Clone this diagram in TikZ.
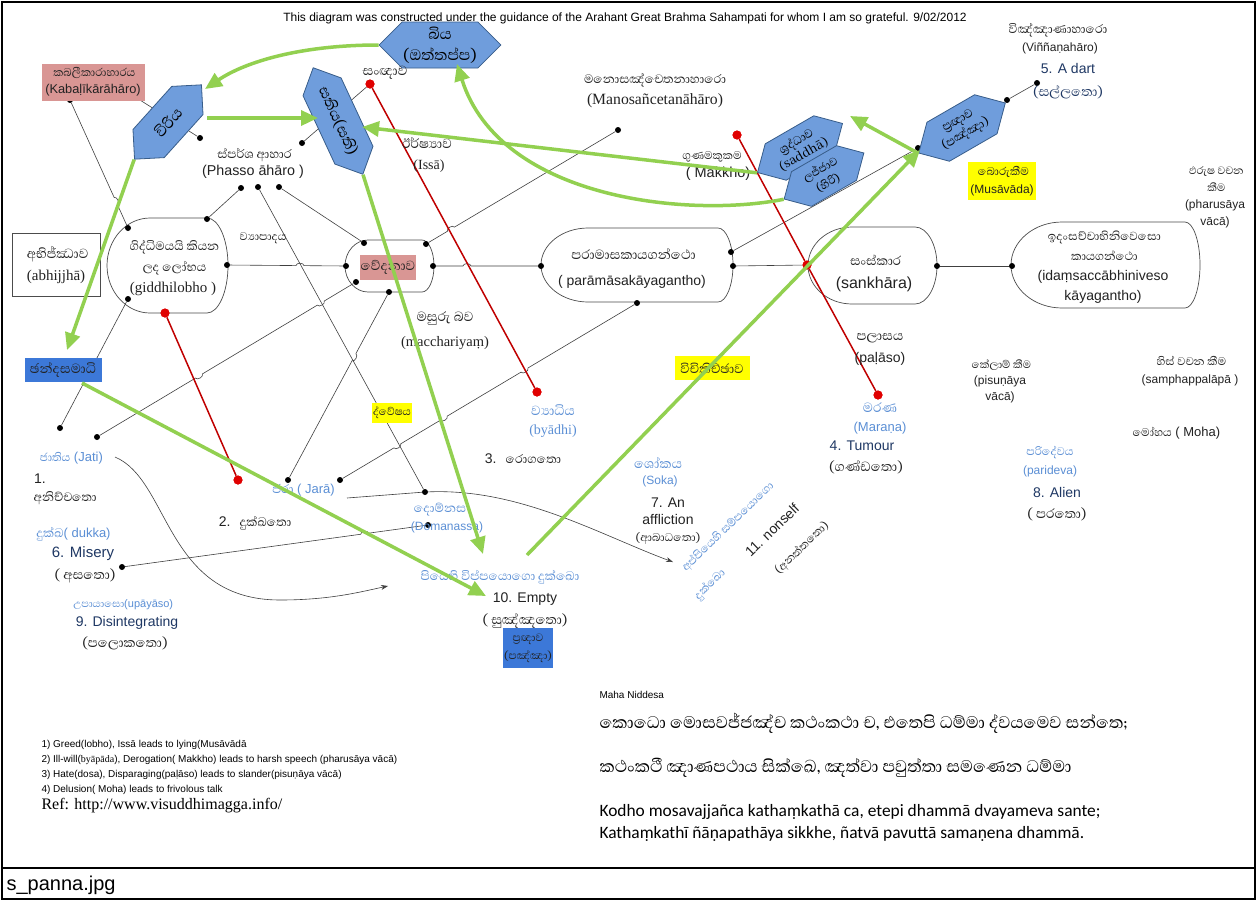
\documentclass[tikz,border=0pt]{standalone}
\usepackage{fontspec}
\setmainfont{Liberation Sans}
\newfontfamily\sinhala[Script=Sinhala, Scale=1.3]{Abhaya Libre}
\newfontfamily\serf{Liberation Serif}
\newfontfamily\calib{Carlito}
\usetikzlibrary{shapes.symbols,arrows.meta,calc}

\definecolor{hexfill}{HTML}{6F9DDC}
\definecolor{hexline}{HTML}{385D8A}
\definecolor{pinkbox}{HTML}{D99694}
\definecolor{bluebox}{HTML}{3C78D8}
\definecolor{hilite}{HTML}{FFFF00}
\definecolor{lgreen}{HTML}{92D050}
\definecolor{darkred}{HTML}{C00000}
\definecolor{reddot}{HTML}{E00000}
\definecolor{lblue}{HTML}{5B8FD5}
\definecolor{navy}{HTML}{1F3864}
\definecolor{ink}{HTML}{222222}

\newcommand\fsz[2]{\fontsize{#1}{#2}\selectfont}

\tikzset{
  hexa/.style={signal, signal to=east and west, draw=hexline, fill=hexfill,
    line width=0.8pt, inner sep=1pt, align=center, font=\sinhala\fsz{11.5}{15}},
  dot/.style={circle, fill=black, inner sep=0pt, minimum size=6pt},
  rdot/.style={circle, fill=reddot, inner sep=0pt, minimum size=9pt},
  link/.style={draw=black!75, line width=0.6pt},
  hop/.style={bend left=90},
  redline/.style={draw=darkred, line width=1.5pt},
  garrow/.style={draw=lgreen, line width=3.5pt, -{Triangle[length=17pt,width=15pt]}},
  lbl/.style={align=center, inner sep=1pt, font=\fsz{13}{16}, text=ink},
  sil/.style={lbl, font=\sinhala\fsz{13}{16}},
  srf/.style={lbl, font=\serf\fsz{14}{16}},
  blu/.style={text=lblue},
  capsule/.style={draw=black!70, line width=0.7pt},
  boxed/.style={inner sep=1pt, align=center, text=ink},
}

% rounded "display" outline: #1 left, #2 flat start, #3 flat end, #4 right, #5 top, #6 bottom
\newcommand\capsule[6]{%
  \pgfmathsetmacro\capM{(#5+#6)/2}%
  \pgfmathsetmacro\capA{\capM-0.55*(#6-#5)/2}%
  \pgfmathsetmacro\capB{\capM+0.55*(#6-#5)/2}%
  \pgfmathsetmacro\capR{#3+0.55*(#4-#3)}%
  \pgfmathsetmacro\capL{#2-0.55*(#2-#1)}%
  \draw[capsule] (#2,#5) -- (#3,#5) .. controls (\capR,#5) and (#4,\capA) .. (#4,\capM)
    .. controls (#4,\capB) and (\capR,#6) .. (#3,#6) -- (#2,#6)
    .. controls (\capL,#6) and (#1,\capB) .. (#1,\capM)
    .. controls (#1,\capA) and (\capL,#5) .. (#2,#5) -- cycle;}

\begin{document}
\begin{tikzpicture}[x=1pt,y=-1pt]
\useasboundingbox (0,0) rectangle (1257,900);
\fill[white] (0,0) rectangle (1257,900);
\draw[line width=2pt] (2,2) rectangle (1255,899);
\draw[line width=1.5pt] (2,868) -- (1255,868);

% title
\node[font=\fsz{12}{14}] (title) at (625,18) {This diagram was constructed under the guidance of the Arahant Great Brahma Sahampati for whom I am so grateful. 9/02/2012};

% outlines of the grouped states
\capsule{107}{150}{207}{228}{218}{313}
\capsule{345}{368}{422}{434}{240}{292}
\capsule{541}{588}{718}{733}{228}{302}
\capsule{808}{852}{915}{937}{227}{304}
\capsule{1011}{1062}{1185}{1200}{222}{308}

% junction dots
\node[dot] (k1) at (70,100) {};
\node[dot] (k2) at (132,95) {};
\node[dot] (v2) at (200,138) {};
\node[dot] (s1) at (302,143) {};
\node[dot] (p1) at (241,188) {};
\node[dot] (p2) at (258,187) {};
\node[dot] (p3) at (279,187) {};
\node[dot] (g1) at (128,228) {};
\node[dot] (g2) at (207,219) {};
\node[dot] (g3) at (227,265) {};
\node[dot] (g4) at (128,299) {};
\node[dot] (e1) at (364,243) {};
\node[dot] (e2) at (426,244) {};
\node[dot] (e3) at (346,266) {};
\node[dot] (e4) at (433,266) {};
\node[dot] (e5) at (356,282) {};
\node[dot] (e6) at (389,292) {};
\node[dot] (m1) at (618,130) {};
\node[dot] (pa1) at (541,266) {};
\node[dot] (pa2) at (731,252) {};
\node[dot] (pa3) at (733,266) {};
\node[dot] (pa4) at (637,303) {};
\node[dot] (sk1) at (937,266) {};
\node[dot] (id1) at (1012,266) {};
\node[dot] (pr1) at (918,148) {};
\node[dot] (pr2) at (1007,100) {};
\node[dot] (vi1) at (1037,83) {};
\node[dot] (j1) at (60,428) {};
\node[dot] (j2) at (97,437) {};
\node[dot] (ja1) at (288,480) {};
\node[dot] (ja2) at (340,480) {};
\node[dot] (dm1) at (425,492) {};
\node[dot] (dm2) at (428,525) {};
\node[dot] (ms1) at (122,567) {};

% red end points
\node[rdot] (r1) at (370,84) {};
\node[rdot] (r2) at (537,392) {};
\node[rdot] (r3) at (165,313) {};
\node[rdot] (r4) at (238,480) {};
\node[rdot] (r5) at (737,135) {};
\node[rdot] (r6) at (807,265) {};
\node[rdot] (r7) at (878,395) {};

% thin links, with small hops where they jump over other lines
\draw[link] (k1) -- ($(k1)!107pt!(g1)$) to[hop] ($(k1)!115pt!(g1)$) -- (g1);
\draw[link] (k2) -- (v2);
\draw[link] (s1) -- (r1);
\draw[link] (p1) -- (g2);
\draw[link] (p2) -- (dm1);
\draw[link] (p3) -- (e1);
\draw[link] (e2) -- ($(e2)!25pt!(m1)$) to[hop] ($(e2)!33pt!(m1)$) -- (m1);
\draw[link] (e4) -- ($(e4)!30pt!(pa1)$) to[hop] ($(e4)!38pt!(pa1)$) -- (pa1);
\draw[link] (g3) -- ($(g3)!69pt!(e3)$) to[hop] ($(g3)!77pt!(e3)$) -- (e3);
\draw[link] (e5) -- ($(e5)!37pt!(j2)$) to[hop] ($(e5)!45pt!(j2)$)
  -- ($(e5)!179pt!(j2)$) to[hop] ($(e5)!187pt!(j2)$) -- (j2);
\draw[link] (e6) -- ($(e6)!70pt!(ja1)$) to[hop] ($(e6)!78pt!(ja1)$) -- (ja1);
\draw[link] (g4) -- (j1);
\draw[link] (pa4) -- ($(pa4)!127pt!(ja2)$) to[hop] ($(pa4)!135pt!(ja2)$)
  -- ($(pa4)!221pt!(ja2)$) to[hop] ($(pa4)!229pt!(ja2)$)
  -- ($(pa4)!275pt!(ja2)$) to[hop] ($(pa4)!283pt!(ja2)$) -- (ja2);
\draw[link] (pa2) -- (pr1);
\draw[link] (pa3) -- (r6);
\draw[link] (sk1) -- (id1);
\draw[link] (pr2) -- (vi1);
\draw[link] (ms1) -- ($(ms1)!241pt!(dm2)$) to[hop] ($(ms1)!249pt!(dm2)$) -- (dm2);

% red links
\draw[redline] (r1) -- (r2);
\draw[redline] (r3) -- (r4);
\draw[redline] (r5) -- (r6) -- (r7);
\node[rdot] at (r1) {};
\node[rdot] at (r2) {};
\node[rdot] at (r3) {};
\node[rdot] at (r4) {};
\node[rdot] at (r5) {};
\node[rdot] at (r6) {};
\node[rdot] at (r7) {};

% curved pointers
\coordinate (jarastart) at (347,498);
\coordinate (apstip) at (673,562);
\coordinate (jatistart) at (115,457);
\coordinate (piyatip) at (388,586);
\draw[link, -{Stealth[length=7pt,width=5pt]}] (jarastart) -- (dm1) .. controls (520,488) and (600,535) .. (apstip);
\draw[link, -{Stealth[length=7pt,width=5pt]}] (jatistart) .. controls (170,480) and (165,600) .. (280,600) .. controls (330,600) and (360,592) .. (piyatip);

% hexagons
\node[hexa, minimum width=105pt, minimum height=46pt, font=\sinhala\fsz{15}{21}] (ottappa) at (440,45) {බිය\\(ඔත්තප්ප)};
\node[hexa, rotate=48, minimum width=100pt, minimum height=42pt, font=\sinhala\fsz{15}{16}] (viriya) at (168,122) {විරිය};
\node[hexa, rotate=-65, minimum width=112pt, minimum height=42pt, font=\sinhala\fsz{14.5}{16}] (sati) at (338,121) {සතිය(සති)};
\node[hexa, rotate=30, minimum width=95pt, minimum height=42pt] (saddha) at (800,148) {ශ්‍රද්ධාව\\(saddhā)};
\node[hexa, rotate=30, minimum width=92pt, minimum height=40pt, font=\sinhala\fsz{11}{15}] (lajja) at (824,176) {ලජ්ජාව\\(හිරි)};
\node[hexa, rotate=30, minimum width=100pt, minimum height=45pt] (panna) at (962,128) {ප්‍රඥාව\\(පඤ්ඤා)};

% filled boxes
\node[boxed, fill=pinkbox, minimum width=103pt, minimum height=37pt, font=\fsz{12.8}{17}] (kabali) at (93,82) {{\sinhala\fsz{11}{17} කබලීකාරාහාරය}\\(Kabaḷīkārāhāro)};
\node[boxed, fill=pinkbox, minimum width=56pt, minimum height=25pt, font=\sinhala\fsz{13}{15}] (vedana) at (388,267) {වේදනාව};
\node[boxed, fill=bluebox, minimum width=77pt, minimum height=24pt, font=\sinhala\fsz{13}{15}] (chanda) at (63,370) {ඡන්දසමාධි};
\node[boxed, fill=bluebox, minimum width=50pt, minimum height=40pt, font=\sinhala\fsz{10.5}{18}] (pannabox) at (528,648) {ප්‍රඥාව\\(පඤ්ඤා)};
\node[boxed, fill=hilite, minimum width=68pt, minimum height=38pt, font=\fsz{12}{18}] (musavada) at (1002,181) {{\sinhala\fsz{11}{18} බොරුකීම}\\(Musāvāda)};
\node[boxed, fill=hilite, minimum width=75pt, minimum height=24pt, font=\sinhala\fsz{12.5}{15}] (vicikiccha) at (712,368) {විචිකිච්ඡාව};
\node[boxed, fill=hilite, minimum width=35pt, minimum height=20pt, font=\sinhala\fsz{10.5}{14}] (dvesha) at (392,413) {ද්වේෂය};
\node[boxed, draw=black!70, line width=0.7pt, minimum width=88pt, minimum height=63pt, font=\serf\fsz{15}{22}] (abhijjha) at (56,265) {{\sinhala\fsz{13}{22} අභිජ්ඣාව}\\(abhijjhā)};

% labels of the upper region
\node[sil] (sanna) at (385,73) {සංඥාව};
\node[lbl, font=\fsz{14.3}{17}] (phasso) at (253,163) {{\sinhala\fsz{12}{17} ස්පර්ශ ආහාර}\\(Phasso āhāro )};
\node[sil] (issa1) at (427,143) {ඊර්ෂ්‍යාව};
\node[srf] (issa2) at (429,166) {(Issā)};
\node[sil, font=\sinhala\fsz{12}{16}] (mano1) at (655,80) {මනොසඤ්චෙතනාහාරො};
\node[srf, font=\serf\fsz{15.7}{17}] (mano2) at (655,101) {(Manosañcetanāhāro)};
\node[sil, font=\sinhala\fsz{12}{16}] (vinn1) at (1058,30) {විඤ්ඤාණාහාරො};
\node[lbl, font=\fsz{12}{14}] (vinn2) at (1060,48) {(Viññaṇahāro)};
\node[lbl, text=navy, font=\fsz{14}{16}] (dart1) at (1068,68) {5. A dart};
\node[sil, text=navy] (dart2) at (1068,92) {(සල්ලතො)};
\node[sil, font=\sinhala\fsz{11}{16}] (makkho1) at (712,157) {ගුණමකුකම};
\node[lbl, font=\fsz{14.5}{16}] (makkho2) at (718,174) {( Makkho)};
\node[lbl, font=\fsz{12}{17}] (pharusa) at (1215,197) {{\sinhala\fsz{10.5}{17} ඵරුෂ වචන}\\{\sinhala\fsz{10.5}{17} කීම}\\(pharusāya\\vācā)};

% labels of the middle band
\node[lbl, align=center, font=\serf\fsz{15}{21}] (giddhi) at (173,268) {{\sinhala\fsz{12}{21} ගිද්ධිමයයි කියන}\\{\sinhala\fsz{12}{21} ලද ලෝභය}\\(giddhilobho )};
\node[sil, font=\sinhala\fsz{11}{16}] (byapada) at (263,238) {ව්‍යාපාදය};
\node[lbl, font=\fsz{14}{26}] (paramasa) at (632,268) {{\sinhala\fsz{13}{26} පරාමාසකායගන්ථො}\\( parāmāsakāyagantho)};
\node[lbl, font=\fsz{16}{23}] (sankhara) at (874,273) {{\sinhala\fsz{12.5}{23} සංස්කාර}\\(sankhāra)};
\node[lbl, font=\fsz{14}{20}] (idam) at (1103,267) {{\sinhala\fsz{11.5}{20} ඉදංසච්චාභිනිවෙසො}\\{\sinhala\fsz{11.5}{20} කායගන්ථො}\\(idaṃsaccābhiniveso\\kāyagantho)};

% labels of the lower band
\node[sil] (macch1) at (445,318) {මසුරු බව};
\node[srf, font=\serf\fsz{14.5}{16}] (macch2) at (445,343) {(macchariyaṃ)};
\node[sil, blu] (byadhi1) at (553,410) {ව්‍යාධිය};
\node[srf, blu] (byadhi2) at (553,431) {(byādhi)};
\node[sil] (palasa1) at (880,338) {පලාසය};
\node[lbl, font=\fsz{14}{16}] (palasa2) at (880,359) {(paḷāso)};
\node[lbl, font=\fsz{12}{16}] (pisuna) at (1000,381) {{\sinhala\fsz{10.5}{16} කේලාම් කීම}\\(pisuṇāya\\vācā)};
\node[lbl, font=\fsz{12}{18}] (sampha) at (1190,371) {{\sinhala\fsz{11}{18} හිස් වචන කීම}\\(samphappalāpā )};
\node[lbl] (moha) at (1175,433) {{\sinhala\fsz{11}{16} මෝහය} ( Moha)};
\node[sil, blu] (marana1) at (880,408) {මරණ};
\node[lbl, blu] (marana2) at (880,428) {(Maraṇa)};
\node[lbl, text=navy, font=\fsz{14}{16}] (tumour1) at (862,446) {4. Tumour};
\node[sil] (tumour2) at (866,467) {(ගණ්ඩතො)};
\node[lbl, font=\fsz{14}{16}] (roga) at (523,459) {3. {\sinhala\fsz{12}{16} රොගතො}};
\node[sil, blu] (soka1) at (658,463) {ශෝකය};
\node[lbl, blu, font=\fsz{12}{14}] (soka2) at (660,481) {(Soka)};
\node[lbl, font=\fsz{14}{17}] (afflict) at (668,511) {7. An\\affliction};
\node[sil, font=\sinhala\fsz{11}{16}] (afflict2) at (668,538) {(ආබාධතො)};
\node[sil, blu, font=\sinhala\fsz{11}{16}] (pari1) at (1050,453) {පරිදේවය};
\node[lbl, blu, font=\fsz{12}{14}] (pari2) at (1050,471) {(parideva)};
\node[lbl, text=navy, font=\fsz{14}{16}] (alien1) at (1057,492) {8. Alien};
\node[sil] (alien2) at (1057,514) {( පරතො)};
\node[sil, blu, rotate=44, font=\sinhala\fsz{11}{16}] (aps1) at (728,527) {අප්පියෙහි සම්පයොගො};
\node[sil, blu, rotate=44, font=\sinhala\fsz{11}{16}] (aps2) at (710,585) {දුක්ඛො};
\node[lbl, font=\fsz{14}{16}, rotate=44] (nonself1) at (772,530) {11. nonself};
\node[sil, rotate=44, font=\sinhala\fsz{11}{16}] (nonself2) at (802,548) {(අනත්තතො)};

% labels of the lower left
\node[lbl, blu] (jati) at (70,458) {{\sinhala\fsz{11}{16} ජාතිය} (Jati)};
\node[lbl, anchor=west, font=\fsz{14}{16}] (one) at (33,479) {1.};
\node[sil, font=\sinhala\fsz{12}{16}] (anicca) at (65,498) {අනිච්චතො};
\node[lbl, blu] (dukka) at (72,534) {{\sinhala\fsz{12}{16} දුක්ඛ}( dukka)};
\node[lbl, text=navy, font=\fsz{15}{16}] (misery1) at (83,554) {6. Misery};
\node[sil] (misery2) at (85,576) {( අසතො)};
\node[lbl, blu, font=\fsz{11}{13}] (upaya) at (122,605) {{\sinhala\fsz{10}{13} උපායාසො}(upāyāso)};
\node[lbl, text=navy, font=\fsz{14}{16}] (disint1) at (127,623) {9. Disintegrating};
\node[sil] (disint2) at (125,643) {(පලොකතො)};
\node[lbl, blu] (jara) at (302,490) {{\sinhala\fsz{12}{16} ජරා} ( Jarā)};
\node[lbl, font=\fsz{14}{16}] (dukkhato) at (255,523) {2. {\sinhala\fsz{12}{16} දුක්ඛතො}};
\node[sil, blu, font=\sinhala\fsz{12}{16}] (doman1) at (440,510) {දොම්නස};
\node[lbl, blu, font=\fsz{12}{14}] (doman2) at (447,527) {(Domanassa)};
\node[sil, blu, font=\sinhala\fsz{12}{16}] (piya) at (500,577) {පියෙහි විප්පයොගො දුක්ඛො};
\node[lbl, font=\fsz{14}{16}] (empty1) at (525,599) {10. Empty};
\node[sil] (empty2) at (525,621) {( සුඤ්ඤතො)};

% green pointers
\coordinate (viriyain) at (205,89);
\coordinate (satiin) at (318,118);
\coordinate (viriyaout) at (207,118);
\coordinate (chandain) at (67,350);
\coordinate (emptyin) at (483,554);
\coordinate (emptyin2) at (486,596);
\coordinate (chandaout) at (82,383);
\coordinate (piyaout) at (527,555);
\coordinate (pannain) at (920,150);
\coordinate (saddhain) at (850,116);
\coordinate (satiin2) at (362,127);
\coordinate (ottappain) at (457,64);
\draw[garrow] (ottappa.west) .. controls (300,45) and (245,62) .. (viriyain);
\draw[garrow] (viriyaout) -- (satiin);
\draw[garrow] (viriya.west) -- (chandain);
\draw[garrow] (sati.east) -- (emptyin);
\draw[garrow] (chandaout) -- (emptyin2);
\draw[garrow] (piyaout) -- (pannain);
\draw[garrow] (panna.west) -- (saddhain);
\draw[garrow] (saddha.west) -- (satiin2);
\draw[garrow] (lajja.west) .. controls (690,218) and (500,200) .. (ottappain);

% notes
\node[anchor=west, font=\fsz{10}{12}] (maha) at (596,695) {Maha Niddesa};
\node[anchor=west, font=\sinhala\fsz{16.5}{20}] (verse1) at (596,723) {කොධො මොසවජ්ජඤ්ච කථංකථා ච, එතෙපි ධම්මා ද්වයමෙව සන්තෙ;};
\node[anchor=west, font=\sinhala\fsz{16.5}{20}] (verse2) at (596,768) {කථංකථී ඤාණපථාය සික්ඛෙ, ඤත්වා පවුත්තා සමණෙන ධම්මා};
\node[anchor=west, font=\calib\fsz{17.4}{22}, align=left] (pali) at (596,823) {Kodho mosavajjañca kathaṃkathā ca, etepi dhammā dvayameva sante;\\Kathaṃkathī ñāṇapathāya sikkhe, ñatvā pavuttā samaṇena dhammā.};
\node[anchor=west, font=\fsz{10}{15}, align=left] (legend) at (38,767) {1) Greed(lobho), Issā leads to lying(Musāvādā\\2) Ill-will({\serf byāpāda}), Derogation( Makkho) leads to harsh speech (pharusāya vācā)\\3) Hate(dosa), Disparaging(paḷāso) leads to slander(pisuṇāya vācā)\\4) Delusion( Moha) leads to frivolous talk};
\node[anchor=west, font=\serf\fsz{16}{18}] (ref) at (38,806) {Ref: http://www.visuddhimagga.info/};
\node[anchor=west, font=\fsz{20}{22}] (fname) at (3,885) {s\_panna.jpg};
\end{tikzpicture}
\end{document}
